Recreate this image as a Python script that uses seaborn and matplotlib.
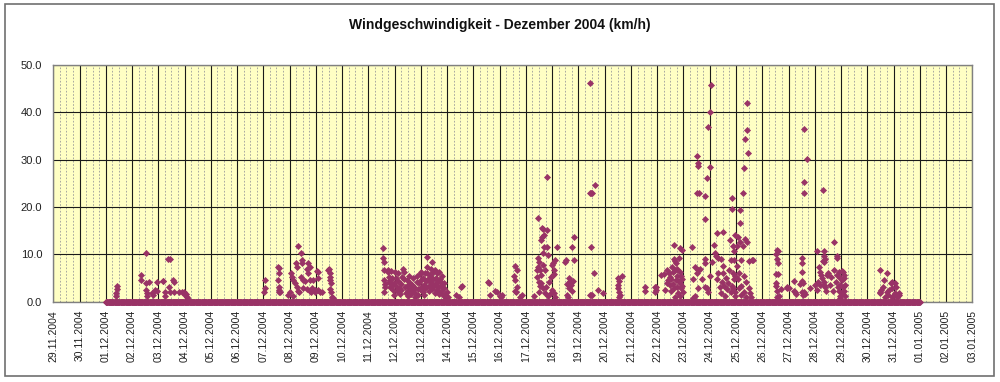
import pandas as pd
import numpy as np
import matplotlib
matplotlib.use("Agg")
import matplotlib.pyplot as plt
import matplotlib.dates as mdates
from matplotlib.patches import Rectangle
import seaborn as sns

sns.set_style("white")
plt.rcParams['font.family'] = ['Liberation Sans', 'DejaVu Sans']

dez01 = [(9.5, 1.2), (9.5, 1.8), (10, 2.6), (10.5, 3.4)]
dez02 = [(8, 5.6), (8.5, 4.6), (12.5, 10.2), (13, 4.0), (13, 2.5), (13.5, 1.9), (14, 1.2),
         (15.5, 4.1), (18, 1.8), (19.5, 1.5), (21, 2.5), (22.5, 2.3), (23, 4.1)]
dez03 = [(4, 4.4), (4.5, 4.3), (6, 2.0), (6.5, 1.2), (9, 9.1), (10.5, 9.0), (10, 3.2), (10.5, 2.0),
         (13, 4.6), (14.5, 4.1), (14, 2.0), (18.5, 2.0), (21.5, 2.1), (23.5, 2.0)]
dez04 = [(0.5, 1.4), (1.5, 1.6), (2, 1.0), (3.5, 0.6)]
dez07 = [(1.5, 4.6), (1.5, 2.8), (1, 2.0), (13.5, 7.4), (14, 7.2), (14.5, 6.1), (13, 4.6), (14, 3.2),
         (14, 2.5), (14.5, 2.1), (15, 2.0), (22.8, 1.4)]
dez08 = [(0.4, 2.1), (1.3, 6.0), (2.5, 5.3), (3.4, 4.6), (3.4, 1.1), (4.9, 3.9), (5.6, 8.1), (6.5, 3.2),
         (7, 7.4), (8, 11.8), (8, 2.3), (9, 2.0), (10.4, 10.3), (11.1, 8.8), (11.1, 8.1), (10.5, 5.3),
         (12.5, 4.6), (12, 2.8), (14.1, 4.4), (15.6, 6.8), (15.6, 2.6), (17.1, 8.2), (17.1, 6.0),
         (18.6, 7.4), (18.6, 4.6), (19, 2.3), (20.2, 2.8), (20, 2.1), (21.7, 4.6), (23.2, 2.1), (23, 2.4)]
dez09 = [(0.8, 6.5), (1.7, 4.9), (1.5, 6.3), (2.3, 2.5), (3.8, 2.0), (5.4, 2.0), (11.4, 6.7), (12, 6.8),
         (12.5, 5.3), (13, 6.0), (13, 4.6), (13.5, 4.0), (13, 2.6), (14, 2.1), (15, 0.9), (15.5, 0.7)]
dez11 = [(13.5, 11.3), (13.5, 9.2), (14, 8.3), (14.5, 6.7), (14, 4.6), (15, 3.8), (15, 3.2), (14.5, 2.0),
         (17.5, 6.7), (18, 6.3), (19, 5.2), (18.5, 4.2), (19.5, 3.0), (20, 4.6), (21, 6.5), (21.5, 5.0),
         (22, 3.6), (22.5, 2.4), (23, 1.5), (23.5, 4.0)]
dez12 = [(0.5, 6.3), (1, 5.1), (1.5, 3.3), (2, 2.2), (3, 6.1), (3.5, 4.4), (4, 2.9), (4.5, 1.6),
         (5.5, 3.8), (6, 2.5), (7, 5.3), (8, 7.0), (8.5, 6.2), (9, 4.8), (9.5, 3.1), (10, 1.9),
         (11, 4.6), (11.5, 3.4), (12, 2.3), (12.5, 1.2), (13.5, 5.5), (14, 4.0), (14.5, 2.8), (15, 1.6),
         (16, 3.6), (16.5, 2.5), (17, 4.9), (18, 3.0), (18.5, 1.9), (19, 0.9), (20, 5.4), (20.5, 4.1),
         (21, 2.7), (21.5, 1.5), (22.5, 3.9), (23, 2.6), (23.5, 5.8)]
dez13 = [(0, 6.3), (0.5, 4.5), (1, 3.2), (1.5, 2.1), (2, 5.0), (2.5, 3.6), (3, 1.4), (3.5, 2.8),
         (4, 6.0), (4.5, 4.3), (5, 3.0), (5.5, 7.3), (6, 9.4), (6, 6.1), (6.5, 4.8), (7, 3.4),
         (7.5, 2.2), (8, 5.6), (8.5, 4.1), (9, 7.0), (9.5, 5.2), (10, 8.4), (10, 3.8), (10.5, 2.6),
         (11, 6.2), (11.5, 4.7), (12, 3.3), (12.5, 1.8), (13, 6.7), (13.5, 5.1), (14, 3.9), (14.5, 2.4),
         (15, 6.0), (15.5, 4.4), (16, 3.0), (16.5, 1.6), (17, 6.3), (17.5, 4.8), (18, 3.5), (18.5, 2.2),
         (19, 5.5), (19.5, 4.0), (20, 2.9), (20.5, 1.5), (21, 4.0), (21.5, 2.8), (22, 1.6), (22.5, 1.0),
         (23, 0.8), (23.5, 2.1)]
dez14 = [(1, 0.9), (8.5, 1.4), (11, 1.0), (12.5, 3.2), (13.5, 3.4)]
dez15 = [(13, 4.2), (14, 3.9), (15.5, 1.4), (20, 2.3), (21.5, 2.0)]
dez16 = [(0.5, 1.3), (1, 0.9), (2, 1.4), (13.5, 5.5), (14, 7.6), (14, 4.6), (14, 2.3), (14.5, 2.0),
         (15.5, 6.7), (15.5, 3.2), (18.5, 1.0), (20, 1.4)]
dez17 = [(7, 1.1), (11, 17.6), (14.5, 15.5), (16, 15.3), (19.5, 15.1), (15, 13.6), (16.5, 14.0),
         (14, 13.0), (16.5, 11.6), (15.5, 10.2), (19, 11.6), (20.5, 9.9), (11, 9.2), (12, 8.4),
         (11, 7.4), (10.5, 6.7), (12.5, 6.6), (14, 5.6), (10, 5.3), (11.5, 4.2), (14, 4.0), (15.5, 2.8),
         (18.5, 3.1), (17, 1.8), (20, 1.2), (22.5, 1.8), (23.5, 2.5), (19.2, 26.4), (17.5, 6.6),
         (16, 7.7), (13, 3.3), (12, 2.0), (21, 4.2), (22.5, 5.3), (23.6, 7.8)]
dez18 = [(0.5, 5.6), (2, 5.9), (2, 6.6), (2.7, 8.8), (4.2, 11.6), (1, 8.2), (2, 1.9), (3, 1.0),
         (11.8, 8.4), (12.5, 8.8), (19.5, 13.6), (18, 11.6), (19.5, 8.8), (15, 4.9), (16, 4.4),
         (17, 4.2), (13.5, 3.7), (15, 2.9), (17.5, 3.5), (19, 4.4), (18.5, 2.3), (13.5, 1.4), (14, 0.9)]
dez19 = [(11, 46.1), (11.5, 11.6), (11, 22.9), (11.5, 22.9), (12, 22.9), (15, 24.6), (14.5, 6.1),
         (10.5, 1.4), (11.5, 1.4), (12.5, 1.4), (18, 2.5), (22.5, 1.8)]
dez20 = [(12.5, 4.9), (16, 5.5), (13, 4.4), (12, 3.5), (12.5, 2.8), (13.5, 2.0), (13, 1.0), (14, 1.4)]
dez21 = [(13, 3.2), (13, 2.2), (22, 3.2), (22, 2.1), (23, 3.2), (23, 2.5)]
dez22 = [(3.5, 5.6), (6, 5.9), (7, 2.5), (8.5, 6.7), (9, 3.9), (10, 4.6), (11, 6.0), (11.5, 3.5),
         (12, 5.3), (12.5, 2.2), (13, 4.8), (13.5, 7.4), (14, 3.8), (14.5, 6.3), (15, 12.0), (15, 9.0),
         (15.5, 2.8), (16, 8.6), (16.5, 6.7), (17, 4.6), (17.5, 8.1), (18, 5.5), (18, 3.2), (18.5, 7.0),
         (19, 1.8), (19.5, 4.4), (20, 9.2), (20.5, 11.3), (20.5, 6.2), (21, 3.9), (21.5, 5.4), (22, 2.8),
         (22.5, 11.0), (22.5, 4.8), (23, 3.4), (23.5, 2.0), (16, 1.0), (21, 1.2)]
dez23 = [(7.7, 11.6), (10.7, 7.4), (10.7, 1.2), (9.1, 4.8), (9.1, 0.7), (12.2, 6.0), (13.7, 6.7),
         (15.2, 7.0), (16.8, 4.8), (19.8, 8.1), (19.8, 9.0), (19.8, 3.1), (21.3, 2.8), (22.8, 2.1),
         (13.7, 2.8), (12.5, 30.7), (13.5, 29.2), (13, 28.6), (12.2, 22.9), (14.6, 22.9), (19.8, 22.2),
         (21.4, 26.0), (19.8, 17.4), (23.8, 28.5), (22.3, 36.9), (23.8, 40.0)]
dez24 = [(0.3, 5.5), (1.3, 45.7), (2, 8.4), (4, 12.0), (5, 10.3), (6, 9.6), (6.5, 14.4), (7, 4.8),
         (8, 9.3), (8, 6.0), (9, 3.2), (10, 9.0), (10, 1.9), (11, 4.1), (12, 7.5), (12.5, 14.8),
         (12.5, 6.0), (13.5, 3.4), (14, 1.2), (15, 5.0), (16, 2.6), (17, 4.0), (18, 6.7), (18.5, 13.0),
         (19, 8.7), (19, 2.1), (20, 21.8), (20.5, 19.5), (20.5, 3.4), (21, 11.7), (21, 6.0), (21.5, 2.8),
         (22, 8.8), (22, 4.8), (22.5, 10.7), (23, 14.1), (23, 5.4), (23.5, 2.1), (23.5, 1.2)]
dez25 = [(0.5, 11.7), (1, 7.5), (1.5, 4.8), (2, 13.7), (2.5, 2.8), (3, 6.0), (3.5, 12.7), (3.8, 19.3),
         (4, 16.5), (4.5, 3.4), (5, 8.8), (5, 1.4), (6, 11.7), (6.5, 22.9), (7, 28.3), (7, 5.4),
         (7.5, 2.1), (8, 34.3), (8.5, 13.3), (9, 4.2), (9, 1.0), (10, 41.9), (10, 36.2), (10.5, 12.7),
         (11, 31.3), (11.5, 8.6), (12, 2.8), (13, 1.8), (14.5, 8.8), (16, 8.8), (14, 1.0)]
dez26 = [(13.5, 10.9), (14, 10.6), (13, 10.0), (13.5, 9.0), (14, 8.1), (13, 5.8), (14.5, 5.8),
         (12.5, 4.0), (12.5, 3.4), (13.5, 2.3), (15.5, 1.3), (17, 2.6), (13.5, 1.0), (22.5, 2.8), (23, 3.2)]
dez27 = [(0.5, 2.9), (4.6, 4.4), (5, 2.3), (6, 2.0), (7, 1.6), (10.5, 3.7), (12.2, 9.2), (12, 8.1),
         (12.5, 6.3), (12, 4.4), (12, 2.1), (13, 1.4), (13.5, 4.0), (14.5, 25.3), (14.5, 22.9),
         (14.5, 36.4), (16.7, 30.1), (14.5, 2.0), (15.5, 1.6), (20.1, 2.8)]
dez28 = [(0, 3.5), (1.9, 10.6), (1.9, 2.4), (3.4, 4.2), (3.5, 7.4), (5, 6.3), (5, 3.5), (6, 5.6),
         (7, 4.9), (7.5, 8.6), (7.9, 23.6), (8, 10.6), (8, 8.3), (8, 4.2), (8, 3.5), (8.5, 9.6), (9, 9.0),
         (9, 3.2), (10, 2.2), (11, 5.6), (12, 6.0), (14, 3.5), (15, 5.3), (17, 2.2), (17.8, 12.7),
         (18, 6.7), (19, 4.2), (20, 9.6), (20.3, 9.2), (20, 5.6), (21, 3.2), (22, 6.3), (22, 2.2),
         (23, 4.9), (23, 1.2), (23.3, 0.8), (23.5, 3.5)]
dez29 = [(0.5, 4.6), (0.8, 6.5), (1, 1.8), (1.4, 6.3), (1.5, 3.2), (2.3, 4.9), (2.5, 2.2), (3, 5.6),
         (3.8, 3.5), (3.8, 1.2)]
dez30 = [(11.5, 2.1), (12, 6.6), (12, 1.8), (13, 2.5), (14, 3.2), (15, 4.6), (16, 1.0), (18, 6.0),
         (18, 2.1), (19, 1.4), (20, 2.5), (22, 3.9), (22.5, 4.2), (22.5, 1.0), (23, 2.8)]
dez31 = [(0, 1.4), (1, 1.8), (1.5, 4.0), (2, 3.2), (3, 1.4), (3, 1.0), (4.6, 1.8), (5, 1.4)]

tage = {1: dez01, 2: dez02, 3: dez03, 4: dez04, 7: dez07, 8: dez08, 9: dez09, 11: dez11,
        12: dez12, 13: dez13, 14: dez14, 15: dez15, 16: dez16, 17: dez17, 18: dez18, 19: dez19,
        20: dez20, 21: dez21, 22: dez22, 23: dez23, 24: dez24, 25: dez25, 26: dez26, 27: dez27,
        28: dez28, 29: dez29, 30: dez30, 31: dez31}

# Windstille (0 km/h) ueber den ganzen Monat, Messtakt 30 min
ruhig_von = "2004-12-01 00:00"
ruhig_bis = "2005-01-01 00:00"
takt = "30min"

zeilen = []
for tag, werte in tage.items():
    for stunde, kmh in werte:
        zeilen.append((pd.Timestamp(2004, 12, tag) + pd.Timedelta(hours=stunde), kmh))
wind = pd.DataFrame(zeilen, columns=["zeit", "kmh"])
ruhe = pd.DataFrame({"zeit": pd.date_range(ruhig_von, ruhig_bis, freq=takt), "kmh": 0.0})
df = pd.concat([ruhe, wind], ignore_index=True)

farbe = "#993366"

fig = plt.figure(figsize=(10, 3.82), dpi=100)
ax = fig.add_axes([0.0533, 0.2102, 0.919, 0.6204])
ax.set_facecolor("#FFFFC4")

sns.scatterplot(data=df, x="zeit", y="kmh", ax=ax, color=farbe, marker="D", s=13,
                linewidth=0, clip_on=False, zorder=3)

ax.set_xlim(pd.Timestamp("2004-11-29"), pd.Timestamp("2005-01-03"))
ax.set_ylim(0, 50)
ax.yaxis.set_major_locator(plt.MultipleLocator(10))
ax.yaxis.set_major_formatter(plt.FormatStrFormatter("%.1f"))
ax.xaxis.set_major_locator(mdates.DayLocator())
ax.xaxis.set_minor_locator(mdates.HourLocator(byhour=[6, 12, 18]))
ax.xaxis.set_major_formatter(mdates.DateFormatter("%d.%m.%Y"))

ax.grid(which="major", axis="both", color="#1a1a1a", lw=0.8)
ax.grid(which="minor", axis="x", color="#9a9a9a", lw=0.6, linestyle=(0, (2, 2)))
ax.set_axisbelow(True)

for s in ax.spines.values():
    s.set_color("#808080")
    s.set_linewidth(1.0)

ax.tick_params(axis="x", which="major", labelrotation=90, labelsize=7.5, length=3,
               color="#404040", direction="out", pad=3)
ax.tick_params(axis="x", which="minor", length=0)
ax.tick_params(axis="y", labelsize=8, length=3, color="#404040", direction="out", pad=5)
for lab in ax.get_xticklabels() + ax.get_yticklabels():
    lab.set_color("#202020")

ax.set_xlabel("")
ax.set_ylabel("")

fig.text(0.5, 0.935, "Windgeschwindigkeit - Dezember 2004 (km/h)", ha="center", va="center",
         fontsize=10, fontweight="bold", color="#111111")

fig.patches.append(Rectangle((0.005, 0.016), 0.989, 0.974, transform=fig.transFigure,
                             fill=False, edgecolor="#707070", lw=1.2))

fig.savefig("out.png", dpi=100)
